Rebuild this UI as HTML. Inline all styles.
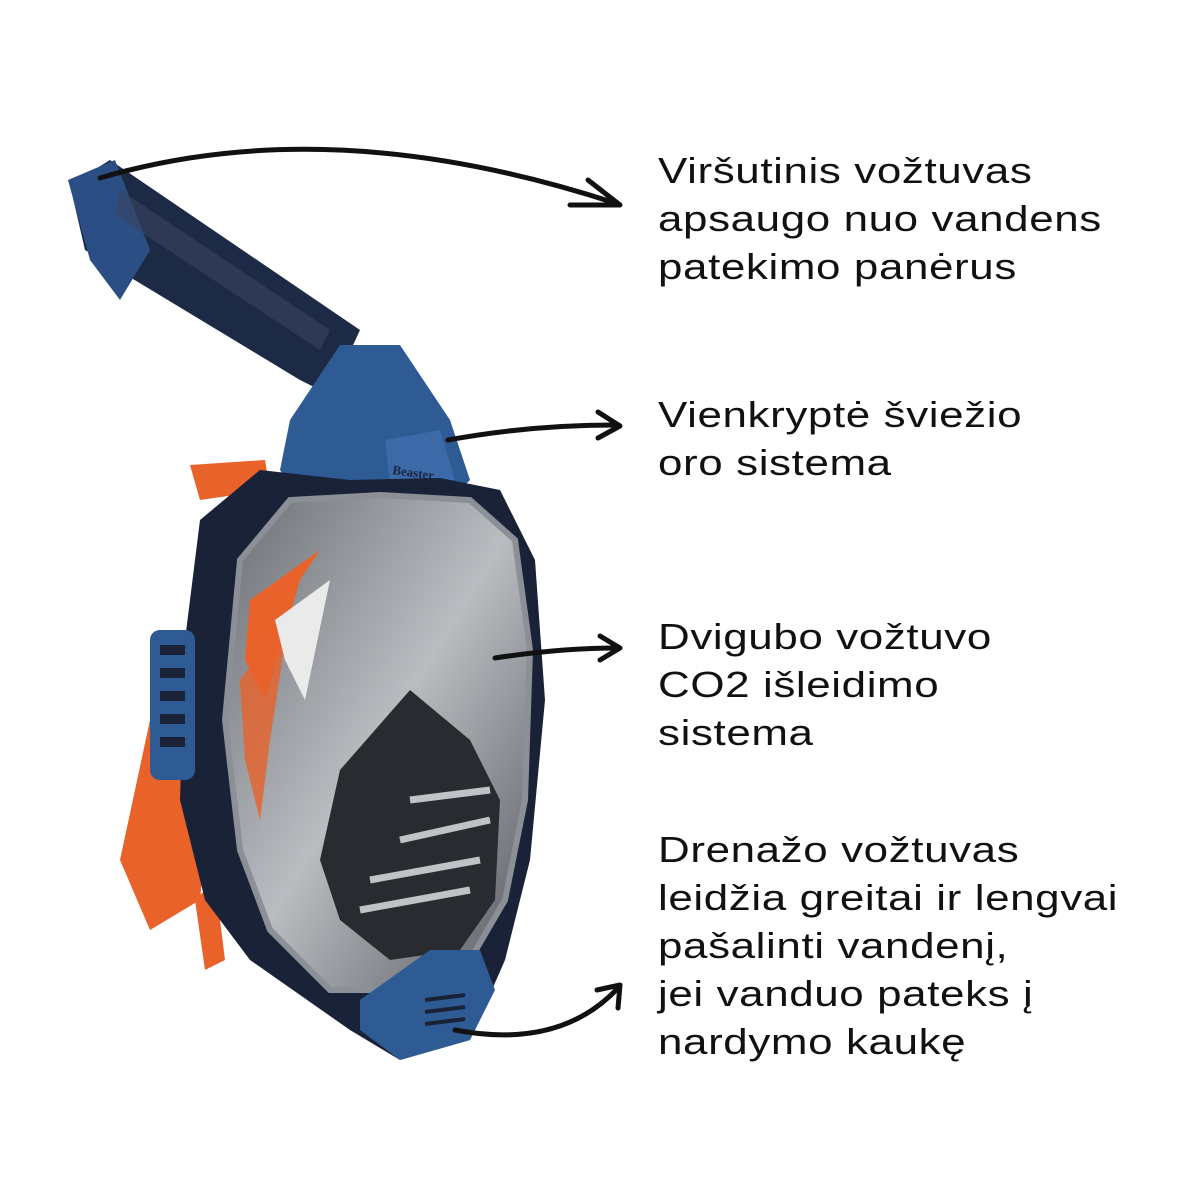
<!DOCTYPE html>
<html><head><meta charset="utf-8"><style>
html,body{margin:0;padding:0;background:#fff;}
#c{position:relative;width:1200px;height:1200px;overflow:hidden;}
.t{position:absolute;left:658px;font-family:"Liberation Sans",sans-serif;font-size:36px;color:#111;line-height:48px;letter-spacing:0.5px;transform:scaleX(1.22);transform-origin:0 0;white-space:nowrap;}
</style></head><body><div id="c">
<svg width="1200" height="1200" style="position:absolute;left:0;top:0">
<defs>
<linearGradient id="gl" x1="0" y1="0" x2="1" y2="1"><stop offset="0" stop-color="#6b6e73"/><stop offset="0.5" stop-color="#b9bcc0"/><stop offset="1" stop-color="#55585e"/></linearGradient>
</defs>
<path d="M150 720 L120 860 L150 930 L200 900 L215 740 Z" fill="#e8622a"/>
<path d="M190 465 L265 460 L270 490 L200 500 Z" fill="#e8622a"/>
<path d="M195 900 L215 880 L225 960 L205 970 Z" fill="#e8622a"/>
<path d="M70 185 L110 160 L360 330 L330 395 L300 380 L85 250 Z" fill="#1d2a45"/>
<path d="M68 180 L115 160 L150 250 L120 300 L90 260 Z" fill="#2b4f85"/>
<path d="M120 190 L330 330 L320 350 L115 215 Z" fill="#3a4560" opacity="0.6"/>
<path d="M290 420 L340 345 L400 345 L450 420 L470 480 L440 510 L300 500 L280 470 Z" fill="#2f5b95"/>
<path d="M385 440 L440 430 L455 480 L390 485 Z" fill="#3c6aa8"/>
<text x="392" y="474" font-family="Liberation Serif,serif" font-size="13" font-weight="bold" fill="#1a2540" transform="rotate(8 392 474)">Beaster</text>
<path d="M200 520 L260 470 L350 480 L440 478 L500 490 L535 560 L545 700 L530 860 L505 960 L470 1040 L400 1060 L350 1030 L250 960 L205 900 L180 800 L185 640 Z" fill="#1a2238"/>
<rect x="150" y="630" width="45" height="150" rx="10" fill="#2f5b95"/>
<g fill="#1a2238"><rect x="160" y="645" width="25" height="10"/><rect x="160" y="668" width="25" height="10"/><rect x="160" y="691" width="25" height="10"/><rect x="160" y="714" width="25" height="10"/><rect x="160" y="737" width="25" height="10"/></g>
<path d="M240 560 L290 500 L380 495 L470 500 L515 540 L530 650 L525 800 L505 900 L470 960 L400 990 L330 990 L270 930 L240 850 L225 720 Z" fill="url(#gl)" stroke="#8b8f96" stroke-width="6"/>
<path d="M250 600 L320 550 L300 580 L265 700 L245 660 Z" fill="#e8622a"/>
<path d="M240 680 L290 610 L270 740 L260 820 L245 760 Z" fill="#e8622a" opacity="0.8"/>
<path d="M275 620 L330 580 L305 700 L285 660 Z" fill="#eaeaea"/>
<path d="M340 770 L410 690 L470 740 L500 800 L495 900 L460 950 L390 960 L340 920 L320 860 Z" fill="#2a2b30"/>
<g stroke="#bfc2c6" stroke-width="7"><line x1="360" y1="910" x2="470" y2="890"/><line x1="370" y1="880" x2="480" y2="860"/><line x1="400" y1="840" x2="490" y2="820"/><line x1="410" y1="800" x2="490" y2="790"/></g>
<path d="M360 1000 L430 950 L480 950 L495 990 L470 1040 L400 1060 L360 1030 Z" fill="#2f5b95"/>
<g stroke="#1a2238" stroke-width="4"><line x1="425" y1="1000" x2="465" y2="995"/><line x1="425" y1="1012" x2="465" y2="1007"/><line x1="425" y1="1024" x2="465" y2="1019"/></g>
<g fill="none" stroke="#111" stroke-width="5" stroke-linecap="round" stroke-linejoin="round">
<path d="M100 178 Q330 110 615 203"/>
<path d="M588 180 L620 205 L570 205"/>
<path d="M448 440 Q530 425 615 425"/>
<path d="M598 412 L620 426 L598 438"/>
<path d="M495 658 Q560 648 618 648"/>
<path d="M600 636 L620 648 L600 660"/>
<path d="M455 1030 Q560 1050 618 988"/>
<path d="M597 990 L620 985 L618 1008"/>
</g>
</svg>
<div class="t" style="top:147px">Viršutinis vožtuvas<br>apsaugo nuo vandens<br>patekimo panėrus</div>
<div class="t" style="top:391px">Vienkryptė šviežio<br>oro sistema</div>
<div class="t" style="top:613px">Dvigubo vožtuvo<br>CO2 išleidimo<br>sistema</div>
<div class="t" style="top:826px">Drenažo vožtuvas<br>leidžia greitai ir lengvai<br>pašalinti vandenį,<br>jei vanduo pateks į<br>nardymo kaukę</div>
</div></body></html>
